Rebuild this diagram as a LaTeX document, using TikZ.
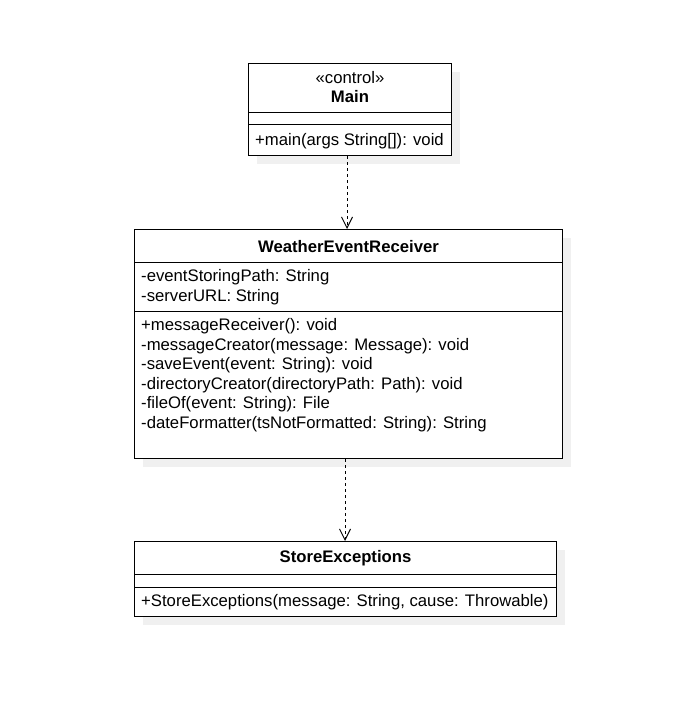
\documentclass[tikz,border=0pt]{standalone}
\usepackage{fontspec}
\setmainfont{Liberation Sans}
\usetikzlibrary{arrows.meta,positioning,shadows}
\tikzset{classbox/.style={draw,line width=1pt,fill=white,inner sep=0pt,anchor=north west,
            general shadow={fill=black!6,shadow xshift=8pt,shadow yshift=-8pt}},
         classname/.style={inner sep=0pt,font=\fontsize{16.7}{19.5}\selectfont\bfseries},
         stereo/.style={inner sep=0pt,font=\fontsize{16.7}{19.5}\selectfont},
         members/.style={anchor=base west,align=left,inner sep=0pt,font=\fontsize{16.7}{19.5}\selectfont},
         sep/.style={line width=1pt},
         dep/.style={line width=1pt,dash pattern=on 3pt off 3pt,
            -{Straight Barb[length=11pt,width=11pt,line width=1pt]}}}

\begin{document}
\begin{tikzpicture}[x=1pt,y=-1pt]
\useasboundingbox (0,0) rectangle (689,709);
% Main
\node[classbox,minimum width=203pt,minimum height=92pt] (main) at (248,63) {};
\node[stereo] (mainstereo) at (main.north |- 0,77.5) {«control»};
\node[classname] (mainname) at (main.north |- 0,96.5) {Main};
\draw[sep] (main.west |- 0,112) -- (main.east |- 0,112);
\draw[sep] (main.west |- 0,124) -- (main.east |- 0,124);
\node[members] (mainops) at (255,145.2) {+main(args String[]): void};
% WeatherEventReceiver
\node[classbox,minimum width=428pt,minimum height=229pt] (wer) at (134,229) {};
\node[classname] (wername) at (wer.north |- 0,246.5) {WeatherEventReceiver};
\draw[sep] (wer.west |- 0,262) -- (wer.east |- 0,262);
% base of multi-line nodes = last line
\node[members] (werattrs) at (141,301.2) {-eventStoringPath: String\\-serverURL: String};
\draw[sep] (wer.west |- 0,311) -- (wer.east |- 0,311);
\node[members] (werops) at (141,428.2) {+messageReceiver(): void\\
  -messageCreator(message: Message): void\\
  -saveEvent(event: String): void\\
  -directoryCreator(directoryPath: Path): void\\
  -fileOf(event: String): File\\
  -dateFormatter(tsNotFormatted: String): String};
% StoreExceptions
\node[classbox,minimum width=422pt,minimum height=75pt] (store) at (134,541) {};
\node[classname] (storename) at (store.north |- 0,558.5) {StoreExceptions};
\draw[sep] (store.west |- 0,574) -- (store.east |- 0,574);
\draw[sep] (store.west |- 0,587) -- (store.east |- 0,587);
\node[members] (storeops) at (141,606.2) {+StoreExceptions(message: String, cause: Throwable)};
% dependencies
\draw[dep] (main.south -| 347,0) -- (wer.north -| 347,0);
\draw[dep] (wer.south -| 345,0) -- (store.north -| 345,0);
\end{tikzpicture}
\end{document}
